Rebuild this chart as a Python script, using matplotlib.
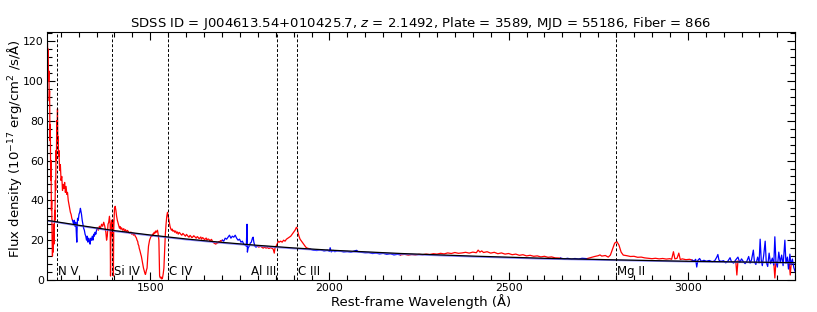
import matplotlib
matplotlib.use("Agg")
import matplotlib.pyplot as plt
from matplotlib.ticker import MultipleLocator

# spectrum pieces (rest-frame wavelength in A, flux in 1e-17 erg/cm2/s/A)
red1_wave = [1212, 1213, 1214, 1215, 1216, 1217, 1218, 1219, 1220, 1221, 1222, 1223, 1224, 1225,
             1226, 1227, 1228, 1229, 1230, 1231, 1232, 1233, 1234, 1235, 1236, 1237, 1238, 1239,
             1240, 1241, 1242, 1243, 1244, 1245, 1247, 1249, 1251, 1253, 1255, 1257, 1259, 1261,
             1263, 1265, 1267, 1269, 1271, 1273, 1275, 1277, 1279, 1281, 1283]
red1_flux = [110, 119, 112, 116, 100, 105, 90, 95, 70, 78, 50, 60, 35, 40,
             20, 12, 22, 14, 28, 18, 25, 35, 30, 50, 45, 65, 60, 80,
             75, 86, 70, 72, 62, 65, 55, 58, 50, 52, 45, 48, 46, 49,
             44, 47, 43, 44, 40, 38, 36, 34, 33, 31, 30]

blue1_wave = [1283, 1286, 1288, 1290, 1292, 1293, 1294, 1295, 1296, 1297, 1299, 1301, 1303, 1305,
              1306, 1308, 1310, 1312, 1314, 1316, 1318, 1320, 1322, 1324, 1326, 1328, 1330, 1332,
              1334, 1336, 1338, 1340, 1342, 1344, 1346, 1348, 1350, 1352]
blue1_flux = [30, 28, 30, 27, 29, 26, 22, 19, 27, 31, 30, 33, 34, 36,
              35, 33, 30, 28, 26, 25, 23, 22, 20, 22, 19, 21, 20, 18,
              21, 20, 22, 20, 23, 22, 24, 23, 25, 26]

red2_wave = [1352, 1355, 1358, 1361, 1364, 1367, 1370, 1373, 1376, 1378, 1380, 1382, 1384, 1386,
             1388, 1389, 1390, 1392, 1394, 1396, 1397, 1398, 1400, 1402, 1404, 1406, 1408, 1411,
             1414, 1416, 1418, 1420, 1423, 1426, 1428, 1431, 1433, 1436, 1438, 1441, 1443, 1446,
             1448, 1451, 1453, 1456, 1458, 1461, 1463, 1465, 1466, 1468, 1469, 1471, 1472, 1474,
             1475, 1477, 1478, 1480, 1481, 1483, 1484, 1486, 1487, 1489, 1491, 1493, 1495, 1498,
             1501, 1503, 1505, 1507, 1509, 1511, 1513, 1515,
             1517, 1520, 1522, 1524, 1526, 1528, 1530, 1532, 1534, 1536, 1538, 1540, 1542, 1544,
             1546, 1548, 1550, 1552, 1555, 1557, 1559, 1561, 1563, 1566, 1568, 1571, 1573, 1576,
             1578, 1581, 1583, 1586, 1588, 1591, 1593, 1596, 1598, 1601,
             1603, 1606, 1608, 1611, 1613, 1616, 1618, 1621, 1623, 1626, 1628, 1631, 1633, 1636,
             1638, 1641, 1643, 1646, 1648, 1651, 1653, 1656, 1658, 1661, 1663, 1666, 1668, 1671,
             1673, 1676, 1678, 1681, 1683, 1686, 1688, 1691, 1693, 1696, 1698, 1701]
red2_flux = [26, 25, 27, 26, 28, 27, 29, 27, 24, 20, 22, 28, 29, 32,
             28, 2, 20, 30, 22, 30, 2, 25, 36, 37, 35, 32, 30, 28,
             26, 26.8, 25.5, 26.2, 25, 25.8, 24.5, 25.3, 24, 24.9, 24.5, 23.6, 23.5, 24.1,
             23, 23.6, 22.5, 23.1, 22, 21.2, 20, 19.3, 18, 17.2, 16, 14.8, 14, 12.6,
             12, 10, 9, 7.2, 6, 4.6, 4, 2.8, 3, 4.8, 6, 12, 17, 20,
             21.5, 22.4, 22, 23.1, 23, 24, 23.5, 24.6,
             24, 25, 23, 20, 2, 1, 1.5, 0.5, 1, 3, 6, 15, 23, 28,
             32, 34, 32, 30, 27, 25.8, 25, 25.6, 24.5, 24.9, 24, 24.6, 23.5, 24.1,
             23, 23.9, 23.5, 22.8, 22.5, 23.4, 23, 22.4, 22, 22.9,
             22.5, 21.8, 21.5, 22.4, 22, 21.3, 21.5, 22.2, 22, 21.4, 21, 21.8, 21.5, 20.8,
             21, 21.6, 20.5, 21.3, 21, 20.3, 20.5, 21.1, 20, 20.6, 20.5, 19.8, 20, 20.4,
             19.5, 18.9, 18.5, 18.2, 18, 18.9, 18.5, 19.3, 19, 19.8, 19.5, 20]

blue2_wave = [1701, 1705, 1709, 1713, 1717, 1721, 1725, 1729, 1733, 1737, 1741, 1745, 1749, 1753,
              1757, 1761, 1765, 1768, 1770, 1771, 1773, 1776, 1779, 1782, 1785, 1787, 1789, 1792,
              1795, 1799]
blue2_flux = [20, 19.5, 21, 20.5, 21.5, 22.5, 21, 22, 21.5, 22.5, 21, 20, 20.5, 19,
              19.5, 18, 17.5, 17, 28, 14, 16, 17, 18.5, 19, 21, 21.5, 19, 17,
              16.5, 17]

red3_wave = [1799, 1803, 1807, 1811, 1815, 1819, 1823, 1827, 1831, 1835, 1839, 1843, 1846, 1848,
             1851, 1854, 1857, 1860, 1864, 1868, 1872, 1876, 1880, 1884, 1888, 1892, 1896, 1900,
             1904, 1908, 1910, 1912, 1915, 1918, 1922, 1926, 1930, 1934, 1938, 1942, 1946]
red3_flux = [17, 16.5, 17, 16.5, 16, 16.5, 16, 16.3, 15.8, 16.2, 16, 15.5, 13.5, 16,
             17, 18, 19.5, 19, 19.5, 19, 20, 19.5, 20.5, 21, 21.5, 22, 23, 24,
             25, 26.5, 26, 24, 22, 20.5, 19.5, 18.5, 17.5, 16.5, 16, 15.8, 15.5]

blue3_wave = [1946, 1955, 1965, 1975, 1985, 1995, 2000, 2002, 2005, 2010, 2015, 2022, 2030, 2040,
              2050, 2060, 2070, 2076, 2080, 2090, 2100, 2110, 2120, 2130, 2140, 2150, 2160, 2170,
              2180, 2190, 2198]
blue3_flux = [15.5, 15, 14.8, 15.2, 14.6, 15, 14.4, 16.2, 14.1, 14.9, 14.2, 14.7, 14.5, 14.1,
              14.3, 14.0, 14.6, 14.9, 14.2, 13.9, 13.7, 13.8, 13.3, 13.5, 13.1, 13.4, 12.9, 13.2,
              12.6, 12.9, 12.6]

red4_wave = [2198, 2210, 2220, 2230, 2240, 2250, 2260, 2270, 2280, 2290, 2300, 2310, 2320, 2330,
             2340, 2350, 2360, 2370, 2380, 2390, 2400, 2410, 2415, 2420, 2425, 2430, 2440, 2450,
             2460, 2470, 2480, 2490, 2500, 2510, 2520, 2530, 2540, 2550, 2560, 2570, 2580, 2590,
             2600, 2610, 2620, 2630, 2645]
red4_flux = [12.6, 12.9, 12.5, 12.8, 12.6, 12.9, 12.7, 13.0, 12.8, 13.2, 13.0, 13.4, 13.1, 13.6,
             13.3, 13.8, 13.4, 13.6, 13.9, 13.5, 14.0, 13.7, 15.0, 14.0, 14.6, 13.8, 14.2, 13.5,
             13.9, 13.2, 13.6, 13.0, 13.3, 12.7, 13.0, 12.4, 12.7, 12.1, 12.4, 11.9, 12.1, 11.6,
             11.9, 11.4, 11.6, 11.1, 11.0]

blue4_wave = [2645, 2655, 2665, 2675, 2685, 2695, 2705, 2720]
blue4_flux = [11.0, 10.6, 10.9, 10.4, 10.8, 10.5, 10.9, 10.7]

red5_wave = [2720, 2730, 2740, 2750, 2755, 2760, 2770, 2778, 2784, 2790, 2796, 2802, 2808, 2814,
             2820, 2830, 2840, 2850, 2860, 2870, 2880, 2890, 2900, 2910, 2920, 2930, 2940, 2950,
             2955, 2960, 2964, 2970, 2975, 2979, 2985, 2995, 3005, 3012]
red5_flux = [10.8, 11.3, 11.8, 12.2, 12.6, 12.0, 12.3, 11.5, 12.5, 15.5, 18.5, 19.3, 17.5, 14,
             12.5, 12.2, 11.8, 11.9, 11.4, 11.5, 11.1, 10.9, 10.7, 10.9, 10.6, 10.8, 10.5, 10.7,
             10.4, 14.2, 10.6, 10.9, 13.5, 10.3, 10.6, 10.2, 10.4, 10.0]

blue5_wave = [3012, 3018, 3022, 3025, 3028, 3033, 3038, 3045, 3052, 3060, 3068, 3075, 3081, 3084,
              3087, 3092, 3100, 3106, 3112, 3118, 3122, 3128, 3133, 3140, 3145, 3150, 3155, 3160,
              3165, 3170, 3174, 3178, 3183, 3186, 3190, 3195, 3199, 3202, 3205, 3208, 3212, 3216,
              3219, 3223, 3227, 3231, 3236, 3240, 3243, 3246, 3250, 3254, 3258, 3262, 3266, 3271,
              3274, 3278, 3281, 3285, 3288, 3292, 3296, 3300]
blue5_flux = [10, 9.5, 10.4, 6.5, 9.8, 10.8, 9.3, 9.9, 9.4, 9.8, 9.2, 9.6, 11.5, 12.8,
              10, 9.3, 9.7, 8.6, 9.5, 11.2, 9.1, 8.5, 9.9, 11.5, 8.8, 10.6, 9.3, 8.2,
              9.5, 11.8, 8.5, 10.2, 15, 9.2, 7.8, 11.5, 8.6, 20.5, 10.1, 7.2, 12.5, 19.5,
              9, 6.8, 13.5, 8.2, 11, 7.5, 21.7, 9.4, 6.5, 14, 8.8, 12.5, 7.2, 20,
              8.5, 11.5, 5.5, 13, 7.8, 10.5, 6.2, 4]

# narrow red drops in the noisy red end
spike_waves = [[3134, 3137, 3140], [3240, 3243, 3246], [3283, 3286, 3289]]
spike_fluxes = [[9.5, 2.5, 9.5], [9.0, 1.0, 9.0], [9.0, 2.5, 9.0]]

# fitted continuum and model
cont_wave = [1211, 1300, 1400, 1500, 1600, 1700, 1800, 1900, 2000, 2200, 2400, 2600, 2800, 3000, 3300]
cont_flux = [30.0, 27.5, 24.8, 22.6, 20.6, 18.9, 17.4, 16.1, 15.0, 13.3, 12.0, 10.9, 10.1, 9.4, 8.7]
model_flux = [29.8, 27.2, 24.5, 22.3, 20.3, 18.6, 17.1, 15.8, 14.7, 13.0, 11.7, 10.6, 9.9, 9.2, 8.6]

line_names = ["N V", "Si IV", "C IV", "Al III", "C III", "Mg II"]
line_waves = [1238.8, 1393.8, 1549.1, 1854.7, 1908.7, 2798.8]

fig = plt.figure(figsize=(8.17, 3.12), dpi=100)
ax = fig.add_axes([0.0572, 0.1026, 0.9162, 0.7944])

segments = [(red1_wave, red1_flux, 'red'), (blue1_wave, blue1_flux, 'blue'),
            (red2_wave, red2_flux, 'red'), (blue2_wave, blue2_flux, 'blue'),
            (red3_wave, red3_flux, 'red'), (blue3_wave, blue3_flux, 'blue'),
            (red4_wave, red4_flux, 'red'), (blue4_wave, blue4_flux, 'blue'),
            (red5_wave, red5_flux, 'red')]
for w, f, c in segments:
    ax.plot(w, f, color=c, lw=0.9)
for w, f in zip(spike_waves, spike_fluxes):
    ax.plot(w, f, color='red', lw=0.9)
ax.plot(blue5_wave, blue5_flux, color='blue', lw=0.9)

ax.plot(cont_wave, model_flux, color='#6a6aff', lw=1.2, alpha=0.8)
ax.plot(cont_wave, cont_flux, color='black', lw=0.9)

for name, lw in zip(line_names, line_waves):
    ax.axvline(lw, color='black', ls='--', lw=0.7, dashes=(3, 2))
    if name == "Al III":
        ax.text(lw - 4, 1.0, name, ha='right', va='bottom', fontsize=8.5)
    else:
        ax.text(lw + 4, 1.0, name, ha='left', va='bottom', fontsize=8.5)

ax.set_xlim(1211, 3300)
ax.set_ylim(0, 124.5)
ax.xaxis.set_major_locator(MultipleLocator(500))
ax.xaxis.set_minor_locator(MultipleLocator(50))
ax.yaxis.set_major_locator(MultipleLocator(20))
ax.yaxis.set_minor_locator(MultipleLocator(4))
ax.tick_params(which='both', direction='in', top=True, right=True, labelsize=7.8)
ax.tick_params(which='major', length=6, width=0.8)
ax.tick_params(which='minor', length=3.5, width=0.8)
ax.tick_params(axis='x', pad=2)
ax.tick_params(axis='y', pad=2)

ax.set_xlabel('Rest-frame Wavelength (Å)', fontsize=9.5)
ax.set_ylabel('Flux density (10$^{-17}$ erg/cm$^2$ /s/Å)', fontsize=9.5)
ax.xaxis.set_label_coords(0.5, -0.085)
ax.xaxis.label.set_va('center')
ax.yaxis.set_label_coords(-0.043, 0.53)
ax.yaxis.label.set_va('center')
ax.set_title('SDSS ID = J004613.54+010425.7, $z$ = 2.1492, Plate = 3589, MJD = 55186, Fiber = 866',
             fontsize=9.5, pad=3)

fig.savefig('out.png', dpi=100)
